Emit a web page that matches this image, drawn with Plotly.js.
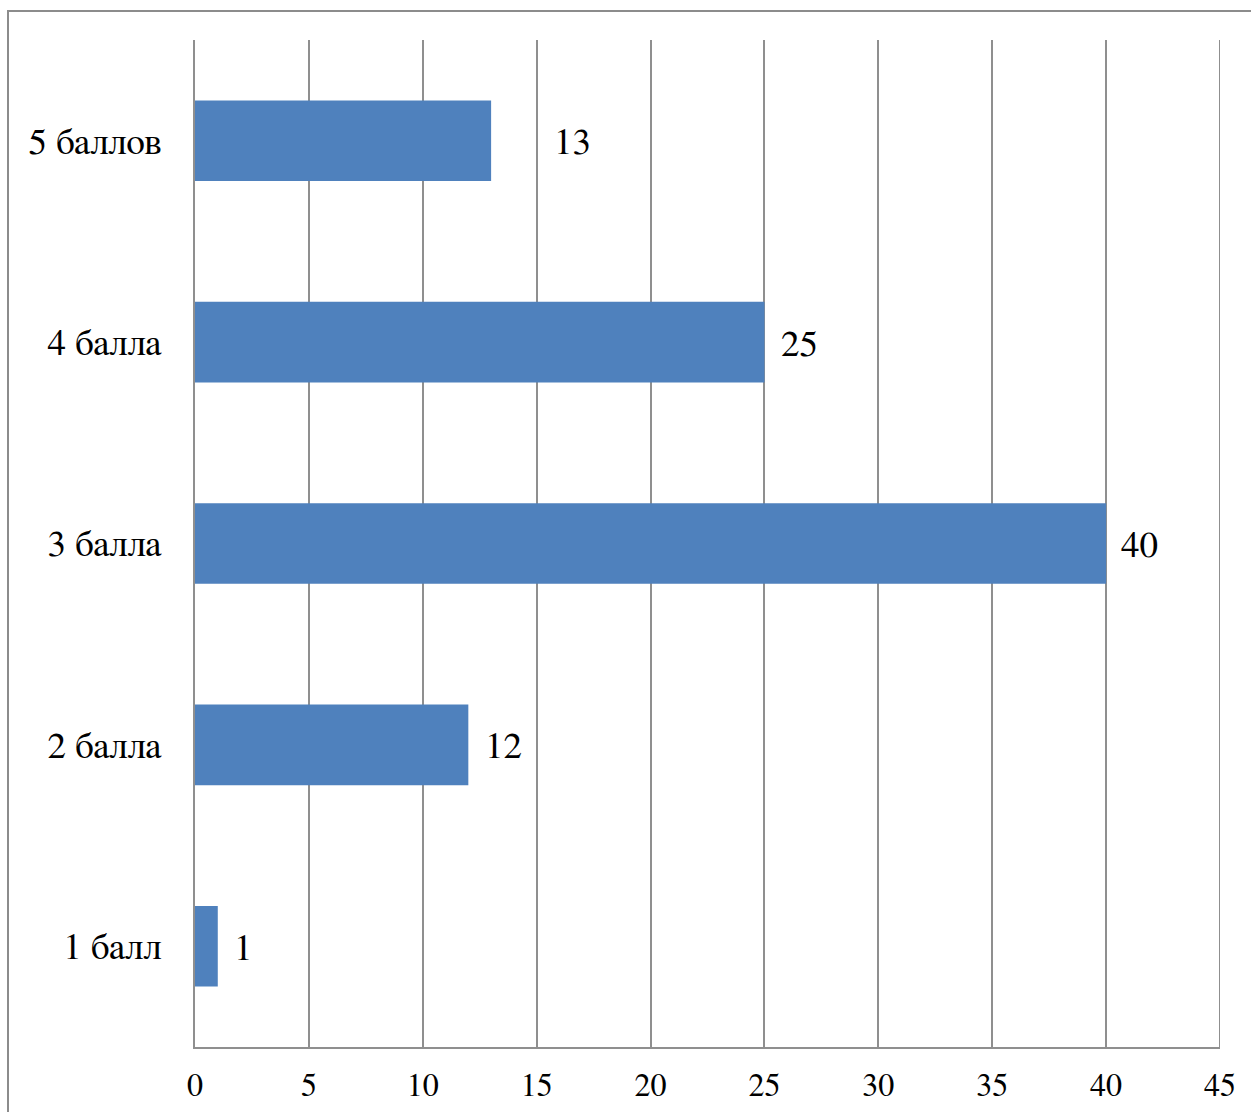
<!DOCTYPE html>
<html>
<head>
<meta charset="utf-8">
<script src="https://cdn.plot.ly/plotly-3.0.1.min.js"></script>
<style>
  html, body { margin: 0; padding: 0; background: #fff; overflow: hidden; }
  #frame { position: absolute; left: 7px; top: 10px; width: 1400px; height: 1300px;
           border: 2px solid #8c8c8c; box-sizing: border-box; }
  #chart { position: absolute; left: 0; top: 0; width: 1251px; height: 1112px; }
</style>
</head>
<body>
<div id="frame"></div>
<div id="chart"></div>
<script>
// Number of students per grade
const categories = ['1 балл', '2 балла', '3 балла', '4 балла', '5 баллов'];
const counts = [1, 12, 40, 25, 13];
// Extra horizontal offset (px) of each value label past the bar end
const labelShift = [14, 15, 13, 15, 61];

const fontFamily = 'FreeSerif, DejaVu Serif, serif';

const trace = {
  type: 'bar',
  orientation: 'h',
  x: counts,
  y: categories,
  marker: { color: '#4F81BD', line: { width: 0 } },
  width: 0.4,
  hoverinfo: 'x+y'
};

const annotations = counts.map((v, i) => ({
  x: v, y: categories[i], xref: 'x', yref: 'y',
  text: String(v), showarrow: false,
  xanchor: 'left', yanchor: 'middle', xshift: labelShift[i], yshift: -2,
  font: { family: fontFamily, size: 37, color: '#000' }
}));

const layout = {
  width: 1251, height: 1112,
  margin: { l: 195, r: 31, t: 40, b: 65 },
  paper_bgcolor: 'rgba(0,0,0,0)',
  plot_bgcolor: 'rgba(0,0,0,0)',
  showlegend: false,
  xaxis: {
    range: [0, 45], dtick: 5, tick0: 0,
    showgrid: true, gridcolor: '#8f8f8f', gridwidth: 2,
    zeroline: false,
    showline: true, linecolor: '#8f8f8f', linewidth: 2,
    ticks: '', ticklabelstandoff: 9,
    tickfont: { family: fontFamily, size: 32, color: '#000' }
  },
  yaxis: {
    type: 'category', categoryorder: 'array', categoryarray: categories,
    range: [-0.5, 4.5],
    showgrid: false, zeroline: false,
    showline: true, linecolor: '#8f8f8f', linewidth: 2,
    ticks: '', ticklabelstandoff: 24,
    tickfont: { family: fontFamily, size: 37, color: '#000' }
  },
  // gridline at the right end of the value axis
  shapes: [{ type: 'line', xref: 'x', yref: 'paper', x0: 45, x1: 45, y0: 0, y1: 1,
             line: { color: '#8f8f8f', width: 2 } }],
  annotations: annotations
};

Plotly.newPlot('chart', [trace], layout, { displayModeBar: false, staticPlot: true });
</script>
</body>
</html>
